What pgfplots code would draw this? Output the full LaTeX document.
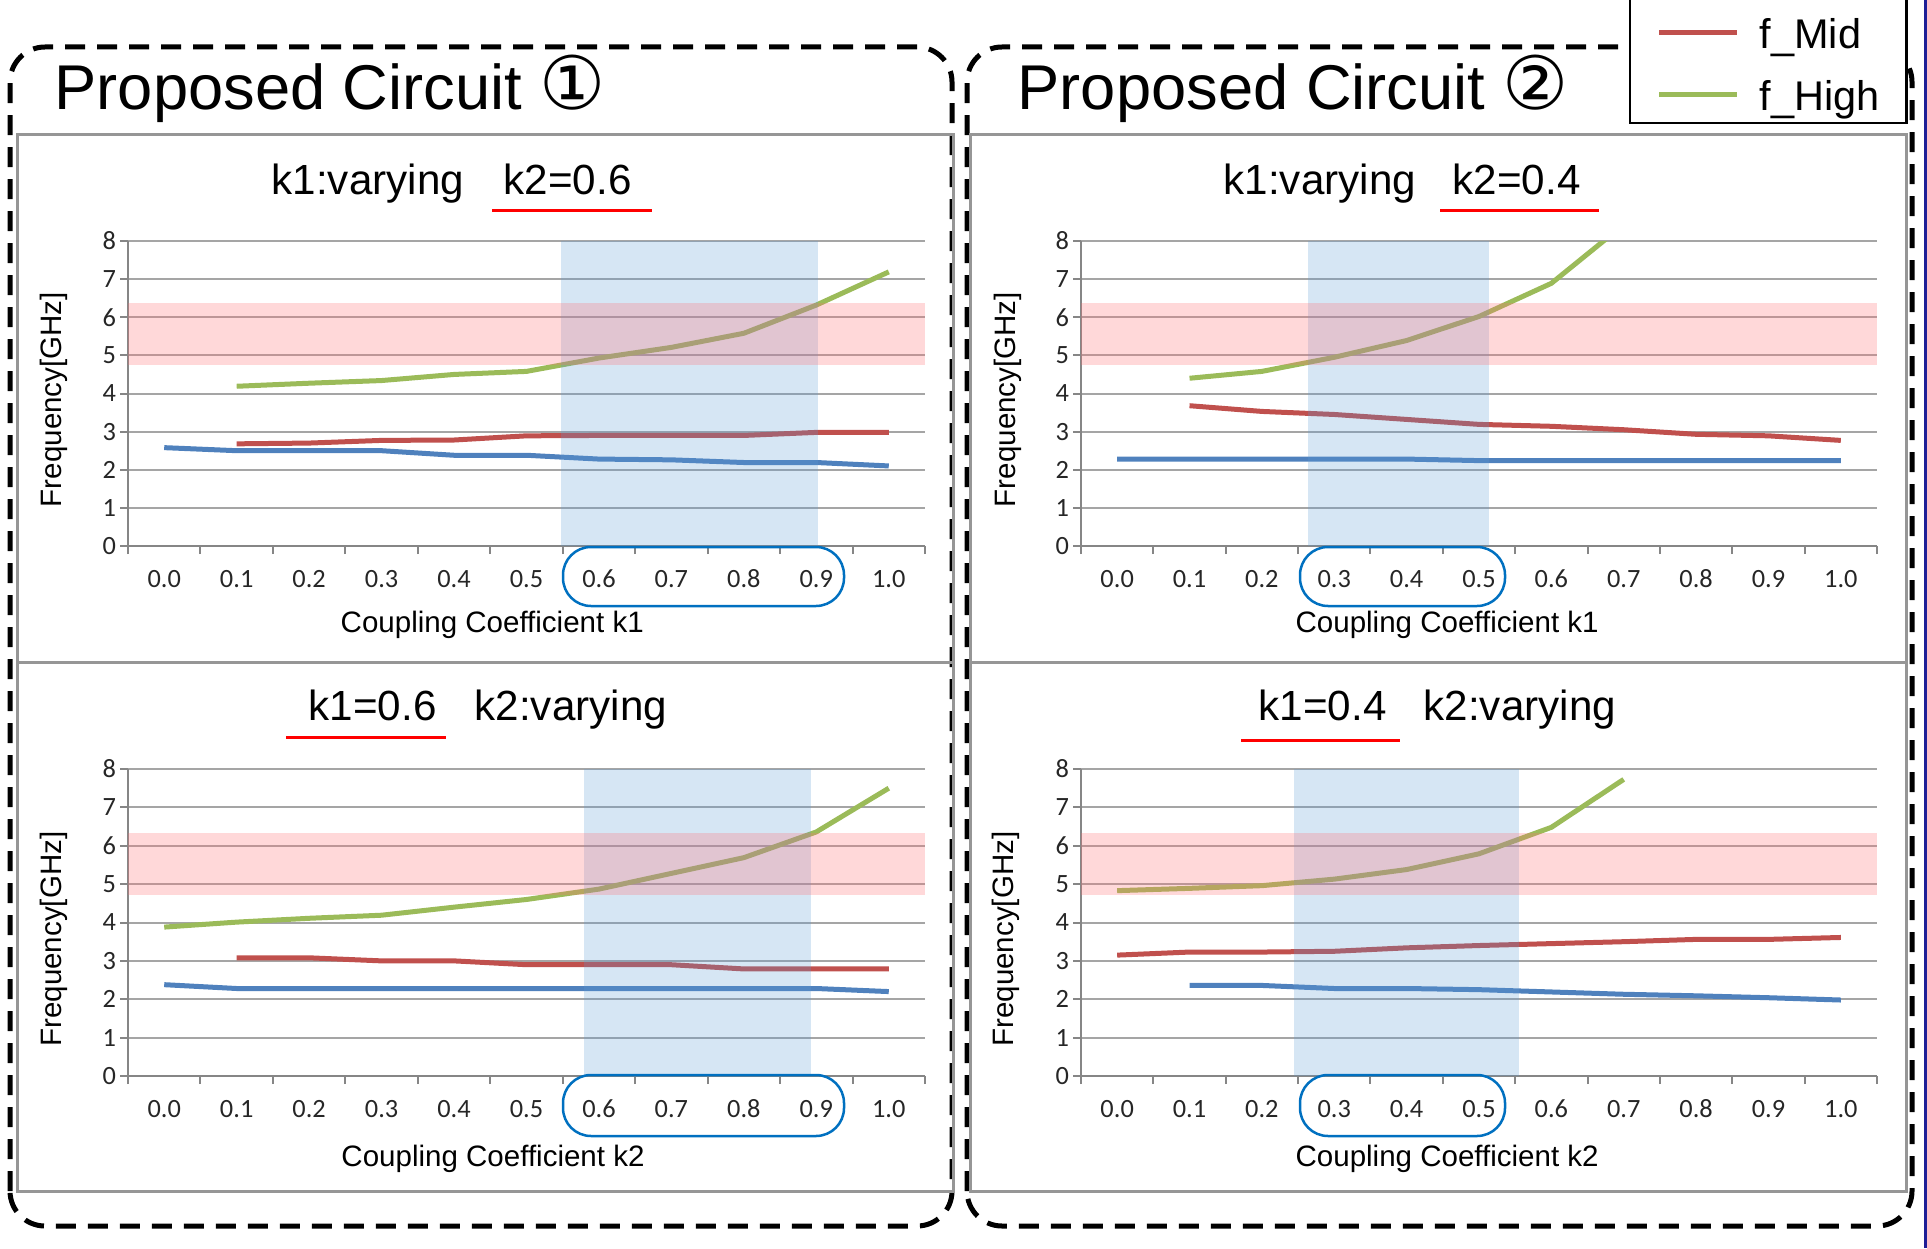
\documentclass[border=0pt]{standalone}
\usepackage{fontspec}
\setmainfont{Liberation Sans}
\newfontfamily\carlito{Carlito}
\newfontfamily\dejavu{DejaVu Sans}
\usepackage{pgfplots}
\pgfplotsset{compat=1.18}

\definecolor{cLow}{RGB}{79,129,189}
\definecolor{cMid}{RGB}{192,80,77}
\definecolor{cHigh}{RGB}{155,187,89}
\definecolor{bandPink}{RGB}{255,110,115}
\definecolor{bandBlue}{RGB}{91,155,213}
\definecolor{gridgray}{RGB}{165,165,165}
\definecolor{axgray}{RGB}{134,134,134}
\definecolor{framegray}{RGB}{150,150,150}
\definecolor{circblue}{RGB}{0,112,192}
\definecolor{edgeblue}{RGB}{30,30,150}

\pgfplotsset{
 panel/.style={
  scale only axis, height=30.5mm,
  anchor=south west,
  xmin=-0.5, xmax=10.5, ymin=0, ymax=8,
  xtick={0,...,10},
  xticklabels={0.0,0.1,0.2,0.3,0.4,0.5,0.6,0.7,0.8,0.9,1.0},
  minor xtick={-0.5,0.5,...,10.5},
  ytick={0,...,8},
  axis lines*=left,
  axis line style={axgray, line width=0.2mm, -},
  ymajorgrids, grid style={gridgray, line width=0.2mm},
  tick align=outside, tick pos=left,
  major tick length=0.8mm, minor tick length=0.8mm,
  tick style={axgray, line width=0.2mm},
  every major x tick/.append style={draw=none},
  ticklabel style={font=\carlito\fontsize{7.5}{9}\selectfont, text=black!85},
  /pgf/number format/assume math mode=true,
  xticklabel style={yshift=-0.35mm},
  yticklabel style={xshift=0.85mm},
  label style={font=\fontsize{8.4}{10}\selectfont},
  ylabel={Frequency[GHz]},
  every axis plot/.append style={line width=0.5mm, line join=round, mark=none},
 },
 pinkband/.style={draw=none, fill=bandPink, fill opacity=0.27, forget plot},
 blueband/.style={draw=none, fill=bandBlue, fill opacity=0.25, forget plot},
}

\begin{document}
\begin{tikzpicture}[x=0.1mm,y=0.1mm]
\useasboundingbox (0,0) rectangle (1927,1248);
\clip (0,0) rectangle (1927,1248);

% dashed outer boxes
\draw[black, line width=0.5mm, dash pattern=on 2mm off 1.2mm, rounded corners=3.5mm]
  (10,22) rectangle (952,1201);
\draw[black, line width=0.5mm, dash pattern=on 2mm off 1.2mm, rounded corners=3.5mm]
  (967,22) rectangle (1912,1201);

% panel frames
\draw[framegray, line width=0.3mm] (17,586) rectangle (953,1113);
\draw[framegray, line width=0.3mm] (17,57) rectangle (953,586);
\draw[framegray, line width=0.3mm] (970,586) rectangle (1906,1113);
\draw[framegray, line width=0.3mm] (970,57) rectangle (1906,586);

% big titles
\node[anchor=base west, inner sep=0, font=\fontsize{18}{21}\selectfont] at (54,1138)
  {Proposed Circuit {\dejavu\fontsize{21}{24}\selectfont ①}};
\node[anchor=base west, inner sep=0, font=\fontsize{18}{21}\selectfont] at (1017,1138)
  {Proposed Circuit {\dejavu\fontsize{21}{24}\selectfont ②}};

% panel titles
\begin{scope}[every node/.style={anchor=base west, inner sep=0, font=\fontsize{12}{14}\selectfont}]
\node at (271,1053) {k1:varying};
\node at (503,1053) {k2=0.6};
\node at (1223,1053) {k1:varying};
\node at (1452,1053) {k2=0.4};
\node at (308,528) {k1=0.6};
\node at (474,528) {k2:varying};
\node at (1258,528) {k1=0.4};
\node at (1423,528) {k2:varying};
\end{scope}
\draw[red, line width=0.3mm] (492,1037) -- (652,1037);
\draw[red, line width=0.3mm] (1440,1037) -- (1599,1037);
\draw[red, line width=0.3mm] (286,511) -- (446,511);
\draw[red, line width=0.3mm] (1241,508) -- (1400,508);

% ---------------- top left: k1 varying, k2=0.6
\begin{axis}[panel, width=79.7mm, at={(12.8mm,70.2mm)},
  xlabel={Coupling Coefficient k1},
  xlabel style={at={(axis description cs:0.457,-0.285)}, anchor=base},
  ylabel style={at={(axis description cs:-0.093,0.48)}, anchor=center}]
\addplot[cLow] coordinates {(0,2.58) (1,2.50) (2,2.50) (3,2.50) (4,2.38) (5,2.38) (6,2.28) (7,2.26) (8,2.19) (9,2.19) (10,2.10)};
\addplot[cMid] coordinates {(1,2.68) (2,2.70) (3,2.77) (4,2.78) (5,2.89) (6,2.90) (7,2.90) (8,2.90) (9,2.98) (10,2.98)};
\addplot[cHigh] coordinates {(1,4.19) (2,4.27) (3,4.34) (4,4.50) (5,4.58) (6,4.93) (7,5.21) (8,5.58) (9,6.32) (10,7.19)};
\addplot[blueband] coordinates {(5.48,0) (9.03,0) (9.03,8) (5.48,8)} -- cycle;
\addplot[pinkband] coordinates {(-0.5,4.76) (10.5,4.76) (10.5,6.37) (-0.5,6.37)} -- cycle;
\end{axis}

% ---------------- top right: k1 varying, k2=0.4
\begin{axis}[panel, width=79.6mm, at={(108.1mm,70.2mm)},
  xlabel={Coupling Coefficient k1},
  xlabel style={at={(axis description cs:0.46,-0.285)}, anchor=base},
  ylabel style={at={(axis description cs:-0.092,0.48)}, anchor=center},
  legend style={at={(axis description cs:1.0389,1.3836)}, anchor=south east,
    draw=black, line width=0.25mm, fill=white,
    font=\fontsize{11.8}{14}\selectfont,
    inner xsep=2.7mm, inner ysep=0.8mm, row sep=2.2mm,
    nodes={inner sep=0pt, text height=3.6mm, text depth=0.4mm},
    /tikz/every odd column/.append style={column sep=2mm}},
  legend cell align=left,
  legend image code/.code={\draw[#1, line width=0.5mm] (0mm,0mm) -- (7.8mm,0mm);}]
\addplot[cLow] coordinates {(0,2.28) (1,2.28) (2,2.28) (3,2.28) (4,2.28) (5,2.24) (6,2.24) (7,2.24) (8,2.24) (9,2.24) (10,2.24)};
\addlegendentry{f\_Low}
\addplot[cMid] coordinates {(1,3.68) (2,3.53) (3,3.45) (4,3.32) (5,3.19) (6,3.14) (7,3.05) (8,2.93) (9,2.89) (10,2.77)};
\addlegendentry{f\_Mid}
\addplot[cHigh] coordinates {(1,4.40) (2,4.58) (3,4.95) (4,5.39) (5,6.02) (6,6.89) (7,8.43)};
\addlegendentry{f\_High}
\addplot[blueband] coordinates {(2.64,0) (5.14,0) (5.14,8) (2.64,8)} -- cycle;
\addplot[pinkband] coordinates {(-0.5,4.76) (10.5,4.76) (10.5,6.37) (-0.5,6.37)} -- cycle;
\end{axis}

% ---------------- bottom left: k1=0.6, k2 varying
\begin{axis}[panel, width=79.7mm, height=30.7mm, at={(12.8mm,17.2mm)},
  xlabel={Coupling Coefficient k2},
  xlabel style={at={(axis description cs:0.458,-0.295)}, anchor=base},
  ylabel style={at={(axis description cs:-0.093,0.446)}, anchor=center}]
\addplot[cLow] coordinates {(0,2.38) (1,2.28) (2,2.28) (3,2.28) (4,2.28) (5,2.28) (6,2.28) (7,2.28) (8,2.28) (9,2.28) (10,2.20)};
\addplot[cMid] coordinates {(1,3.08) (2,3.08) (3,3.00) (4,3.00) (5,2.90) (6,2.90) (7,2.90) (8,2.79) (9,2.79) (10,2.79)};
\addplot[cHigh] coordinates {(0,3.88) (1,4.01) (2,4.11) (3,4.19) (4,4.40) (5,4.60) (6,4.87) (7,5.28) (8,5.69) (9,6.36) (10,7.50)};
\addplot[blueband] coordinates {(5.79,0) (8.93,0) (8.93,8) (5.79,8)} -- cycle;
\addplot[pinkband] coordinates {(-0.5,4.71) (10.5,4.71) (10.5,6.32) (-0.5,6.32)} -- cycle;
\end{axis}

% ---------------- bottom right: k1=0.4, k2 varying
\begin{axis}[panel, width=79.6mm, height=30.7mm, at={(108.1mm,17.2mm)},
  xlabel={Coupling Coefficient k2},
  xlabel style={at={(axis description cs:0.46,-0.295)}, anchor=base},
  ylabel style={at={(axis description cs:-0.094,0.446)}, anchor=center}]
\addplot[cLow] coordinates {(1,2.36) (2,2.36) (3,2.28) (4,2.28) (5,2.25) (6,2.19) (7,2.13) (8,2.09) (9,2.04) (10,1.98)};
\addplot[cMid] coordinates {(0,3.15) (1,3.23) (2,3.23) (3,3.25) (4,3.34) (5,3.40) (6,3.45) (7,3.50) (8,3.56) (9,3.56) (10,3.61)};
\addplot[cHigh] coordinates {(0,4.83) (1,4.89) (2,4.96) (3,5.13) (4,5.38) (5,5.79) (6,6.48) (7,7.73)};
\addplot[blueband] coordinates {(2.44,0) (5.55,0) (5.55,8) (2.44,8)} -- cycle;
\addplot[pinkband] coordinates {(-0.5,4.71) (10.5,4.71) (10.5,6.32) (-0.5,6.32)} -- cycle;
\end{axis}

% rounded marks around selected tick labels
\begin{scope}[circblue, line width=0.25mm, rounded corners=2.8mm]
\draw (563,642) rectangle (844,701);
\draw (1300,642) rectangle (1505,701);
\draw (563,112) rectangle (844,173);
\draw (1300,112) rectangle (1505,173);
\end{scope}

% right edge line
\draw[edgeblue, line width=0.3mm] (1925.5,0) -- (1925.5,1248);
\end{tikzpicture}
\end{document}
